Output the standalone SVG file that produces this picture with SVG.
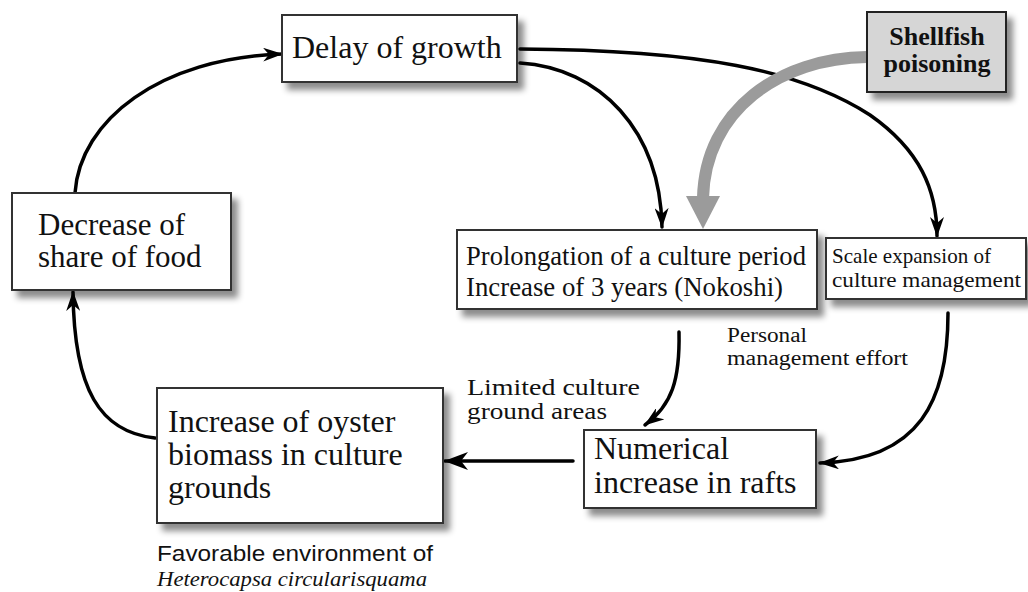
<svg xmlns="http://www.w3.org/2000/svg" width="1028" height="592" viewBox="0 0 1028 592">
<defs>
<filter id="sh" x="-10%" y="-10%" width="130%" height="140%">
<feDropShadow dx="6" dy="7" stdDeviation="3" flood-color="#000" flood-opacity="0.45"/>
</filter>
<marker id="ah" viewBox="0 0 20 14" refX="19" refY="7" markerWidth="20" markerHeight="14" markerUnits="userSpaceOnUse" orient="auto">
<path d="M0,0 L20,7 L0,14 L6,7 z" fill="#000"/>
</marker>
<marker id="ahb" viewBox="0 0 24 18" refX="23" refY="9" markerWidth="24" markerHeight="18" markerUnits="userSpaceOnUse" orient="auto">
<path d="M0,0 L24,9 L0,18 L7,9 z" fill="#000"/>
</marker>
</defs>
<style>
.box{fill:#fff;stroke:#333;stroke-width:2;filter:url(#sh)}
.gbox{fill:#d6d6d6;stroke:#222;stroke-width:2;filter:url(#sh)}
.t{font-family:"Liberation Serif","Times New Roman",serif;fill:#111}
.s{font-family:"Liberation Sans",Arial,sans-serif;fill:#111}
.c{fill:none;stroke:#000;stroke-width:3.5;stroke-linecap:round}
</style>
<rect width="1028" height="592" fill="#fff"/>

<g id="connectors">
<path class="c" d="M75,193 C80,120 160,58 282,54" marker-end="url(#ah)"/>
<path class="c" d="M155,438 C100,432 74,390 73,292" marker-end="url(#ah)"/>
<path class="c" d="M520,49 C700,50 800,70 870,115 C920,150 937,190 937,236" marker-end="url(#ah)"/>
<path class="c" d="M520,63 C600,68 660,130 662,227" marker-end="url(#ah)"/>
<path class="c" d="M679,332 C680,380 672,405 645,425" marker-end="url(#ah)"/>
<path class="c" d="M948,313 C948,400 920,460 820,463" marker-end="url(#ah)"/>
<path class="c" stroke-width="4" d="M573,461 L445,461" marker-end="url(#ahb)"/>
<path d="M867,57 C780,58 705,110 703,198" fill="none" stroke="#9b9b9b" stroke-width="12"/>
<polygon points="686,196 720,196 703,229" fill="#9b9b9b"/>
</g>

<g id="delay">
<rect class="box" x="282" y="15" width="235" height="67"/>
<text class="t" x="292" y="58" font-size="32">Delay of growth</text>
</g>

<g id="shellfish">
<rect class="gbox" x="867" y="12" width="139" height="80"/>
<text class="t" x="937" y="45" font-size="26" font-weight="bold" text-anchor="middle">Shellfish</text>
<text class="t" x="937" y="72" font-size="26" font-weight="bold" text-anchor="middle">poisoning</text>
</g>

<g id="decrease">
<rect class="box" x="12" y="193" width="219" height="97"/>
<text class="t" x="38" y="235" font-size="31">Decrease of</text>
<text class="t" x="38" y="267" font-size="31">share of food</text>
</g>

<g id="prolongation">
<rect class="box" x="457" y="230" width="360" height="79"/>
<text class="t" x="466" y="265" font-size="27" textLength="340" lengthAdjust="spacingAndGlyphs">Prolongation of a culture period</text>
<text class="t" x="466" y="296" font-size="27" textLength="317" lengthAdjust="spacingAndGlyphs">Increase of 3 years (Nokoshi)</text>
</g>

<g id="scale">
<rect class="box" x="826" y="238" width="200" height="61"/>
<text class="t" x="832" y="263" font-size="21" textLength="159" lengthAdjust="spacingAndGlyphs">Scale expansion of</text>
<text class="t" x="832" y="287" font-size="21" textLength="189" lengthAdjust="spacingAndGlyphs">culture management</text>
</g>

<g id="oyster">
<rect class="box" x="157" y="388" width="286" height="135"/>
<text class="t" x="168" y="432" font-size="32">Increase of oyster</text>
<text class="t" x="168" y="465" font-size="32">biomass in culture</text>
<text class="t" x="168" y="498" font-size="32">grounds</text>
</g>

<g id="numerical">
<rect class="box" x="584" y="430" width="232" height="78"/>
<text class="t" x="594" y="459" font-size="32">Numerical</text>
<text class="t" x="594" y="493" font-size="32">increase in rafts</text>
</g>

<g id="labels">
<text class="t" x="727" y="342" font-size="20" textLength="80" lengthAdjust="spacingAndGlyphs">Personal</text>
<text class="t" x="727" y="365" font-size="20" textLength="181" lengthAdjust="spacingAndGlyphs">management effort</text>
<text class="t" x="467" y="395" font-size="23" textLength="173" lengthAdjust="spacingAndGlyphs">Limited culture</text>
<text class="t" x="467" y="419" font-size="23" textLength="140" lengthAdjust="spacingAndGlyphs">ground areas</text>
<text class="s" x="157" y="561" font-size="22" textLength="276" lengthAdjust="spacingAndGlyphs">Favorable environment of</text>
<text class="t" x="157" y="586" font-size="22" font-style="italic" textLength="270" lengthAdjust="spacingAndGlyphs">Heterocapsa circularisquama</text>
</g>
</svg>
